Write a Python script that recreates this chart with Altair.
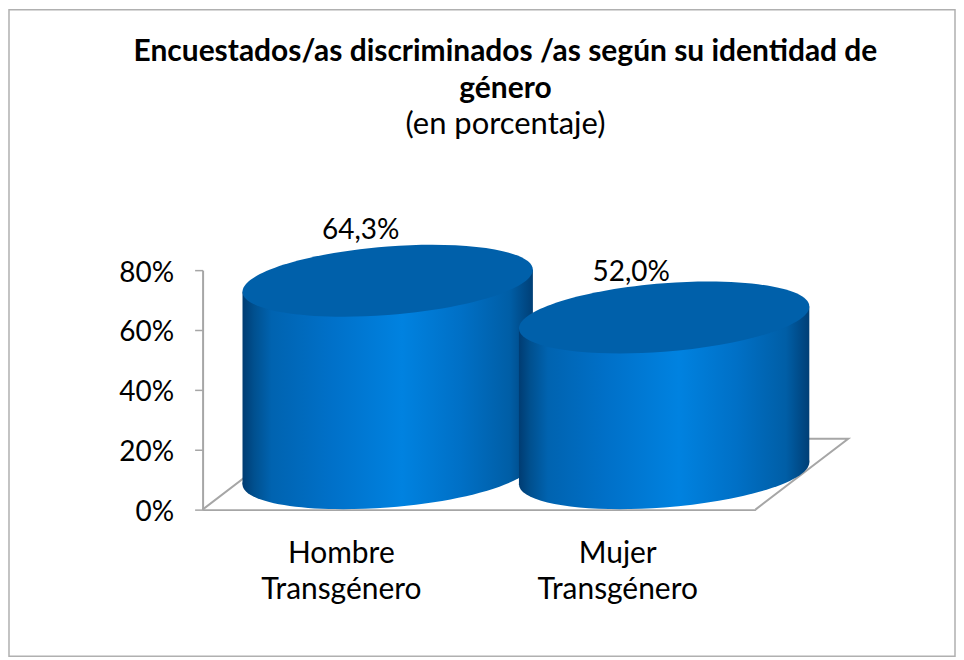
import math
import altair as alt
import pandas as pd

CATEGORIES = ["Hombre Transgénero", "Mujer Transgénero"]
VALUES = [64.3, 52.0]
VALUE_LABELS = ["64,3%", "52,0%"]
Y_TICKS = [0, 20, 40, 60, 80]
TITLE_LINES = ["Encuestados/as discriminados /as según su identidad de", "género"]
SUBTITLE = "(en porcentaje)"

FONT = "Lato"
GREY = "#a6a6a6"
TOP_FILL = "#0060aa"
PX_W, PX_H = 554, 240
PAD = {"left": 195, "top": 262, "right": 201, "bottom": 148}
UX = 2 / PX_W
UY = 80 / PX_H
DEPTH_X, DEPTH_Y = 93 * UX, 71 * UY
HALF_W = 145.5
HALF_X = HALF_W * UX
TILT = 11
SEMI = 34.3
MID_X = 47 * UX
MID_Y = 36.5 * UY
LABEL_DX = [-27, -33]
LABEL_DY = [-50, -45]

GRADIENT = {
    "gradient": "linear", "x1": 0, "x2": 1, "y1": 0, "y2": 0,
    "stops": [
        {"offset": 0.0, "color": "#003c72"},
        {"offset": 0.04, "color": "#00508f"},
        {"offset": 0.1, "color": "#0063b0"},
        {"offset": 0.3, "color": "#0070c8"},
        {"offset": 0.55, "color": "#0082e0"},
        {"offset": 0.75, "color": "#0070c6"},
        {"offset": 0.92, "color": "#005ea6"},
        {"offset": 1.0, "color": "#003f76"},
    ],
}


def ellipse_path():
    k = 0.5523
    b, c = SEMI / HALF_W, -TILT / HALF_W
    def p(t):
        return (math.cos(t), b * math.sin(t) + c * math.cos(t))
    def d(t):
        return (-math.sin(t), b * math.cos(t) - c * math.sin(t))
    parts = ["M%.5f,%.5f" % p(0)]
    for i in range(4):
        t0, t1 = i * math.pi / 2, (i + 1) * math.pi / 2
        p0, p1, d0, d1 = p(t0), p(t1), d(t0), d(t1)
        parts.append("C%.5f,%.5f %.5f,%.5f %.5f,%.5f" % (
            p0[0] + k * d0[0], p0[1] + k * d0[1],
            p1[0] - k * d1[0], p1[1] - k * d1[1],
            p1[0], p1[1]))
    return "".join(parts) + "Z"


SHAPE = ellipse_path()
SIZE = (2 * HALF_W) ** 2

x_enc = alt.X("x:Q", scale=alt.Scale(domain=[0, 2], nice=False, zero=False),
              axis=alt.Axis(
                  title=None, values=[0.5, 1.5], ticks=False, grid=False,
                  domainColor=GREY, domainWidth=2,
                  labelExpr="datum.value < 1 ? %r : %r" % (CATEGORIES[0].split(" "), CATEGORIES[1].split(" ")),
                  labelFont=FONT, labelFontSize=30, labelColor="#000000",
                  labelLineHeight=36, labelPadding=29, labelOverlap=False, labelFlush=False,
                  labelBaseline="top"))
y_enc = alt.Y("y:Q", scale=alt.Scale(domain=[0, 80], nice=False),
              axis=alt.Axis(
                  title=None, values=Y_TICKS, grid=False, domainColor=GREY, domainWidth=2,
                  tickColor=GREY, tickWidth=1.5, tickSize=8, labelPadding=21,
                  labelExpr="datum.value + '%'", labelFont=FONT, labelFontSize=28,
                  labelOffset=3, labelColor="#000000"))

# border frame
frame = alt.Chart(pd.DataFrame({"a": [0]})).mark_rect(
    fillOpacity=0, stroke="#b0b0b0", strokeWidth=1.5
).encode(
    x=alt.value(-PAD["left"] + 1), x2=alt.value(PX_W + PAD["right"] - 1),
    y=alt.value(-PAD["top"] + 1), y2=alt.value(PX_H + PAD["bottom"] - 1),
)

floor = alt.Chart(pd.DataFrame({
    "x": [0, DEPTH_X, 2 + DEPTH_X, 2],
    "y": [0, DEPTH_Y, DEPTH_Y, 0],
    "o": [0, 1, 2, 3],
})).mark_line(color=GREY, strokeWidth=2, clip=False).encode(
    x=x_enc, y=y_enc, order="o:Q"
)

layers = [frame, floor]
for i, v in enumerate(VALUES):
    cx = i + 0.5 + MID_X
    base_c = MID_Y
    top_c = v + MID_Y
    tilt_u = TILT * UY
    body = pd.DataFrame({
        "x": [cx - HALF_X, cx + HALF_X],
        "y": [top_c - tilt_u, top_c + tilt_u],
        "y0": [base_c - tilt_u, base_c + tilt_u],
    })
    layers.append(alt.Chart(pd.DataFrame({"x": [cx], "y": [base_c]})).mark_point(
        shape=SHAPE, size=SIZE, filled=True, fill=GRADIENT, opacity=1, clip=False
    ).encode(x=x_enc, y=y_enc))
    layers.append(alt.Chart(body).mark_area(fill=GRADIENT, opacity=1, clip=False).encode(
        x=x_enc, y=y_enc, y2="y0:Q"))
    layers.append(alt.Chart(pd.DataFrame({"x": [cx], "y": [top_c]})).mark_point(
        shape=SHAPE, size=SIZE, filled=True, fill=TOP_FILL, opacity=1, clip=False
    ).encode(x=x_enc, y=y_enc))
    layers.append(alt.Chart(pd.DataFrame({"x": [cx], "y": [top_c], "t": [VALUE_LABELS[i]]})).mark_text(
        font=FONT, fontSize=28, color="#000000", dx=LABEL_DX[i], dy=LABEL_DY[i], clip=False
    ).encode(x=x_enc, y=y_enc, text="t:N"))

TITLE_CX = 303.5
for text, base, bold, size in [(TITLE_LINES[0], -210, True, 30), (TITLE_LINES[1], -172, True, 30), (SUBTITLE, -136, False, 31)]:
    layers.append(alt.Chart(pd.DataFrame({"t": [text]})).mark_text(
        font=FONT, fontSize=size, fontWeight="bold" if bold else "normal", color="#000000",
        baseline="alphabetic", align="center"
    ).encode(x=alt.value(TITLE_CX), y=alt.value(base), text="t:N"))

chart = alt.layer(*layers).properties(
    width=PX_W, height=PX_H,
    padding=PAD,
    autosize=alt.AutoSizeParams(type="none"),
).configure_view(stroke=None)

chart.save("out.html", embed_options={"renderer": "svg", "actions": False})
